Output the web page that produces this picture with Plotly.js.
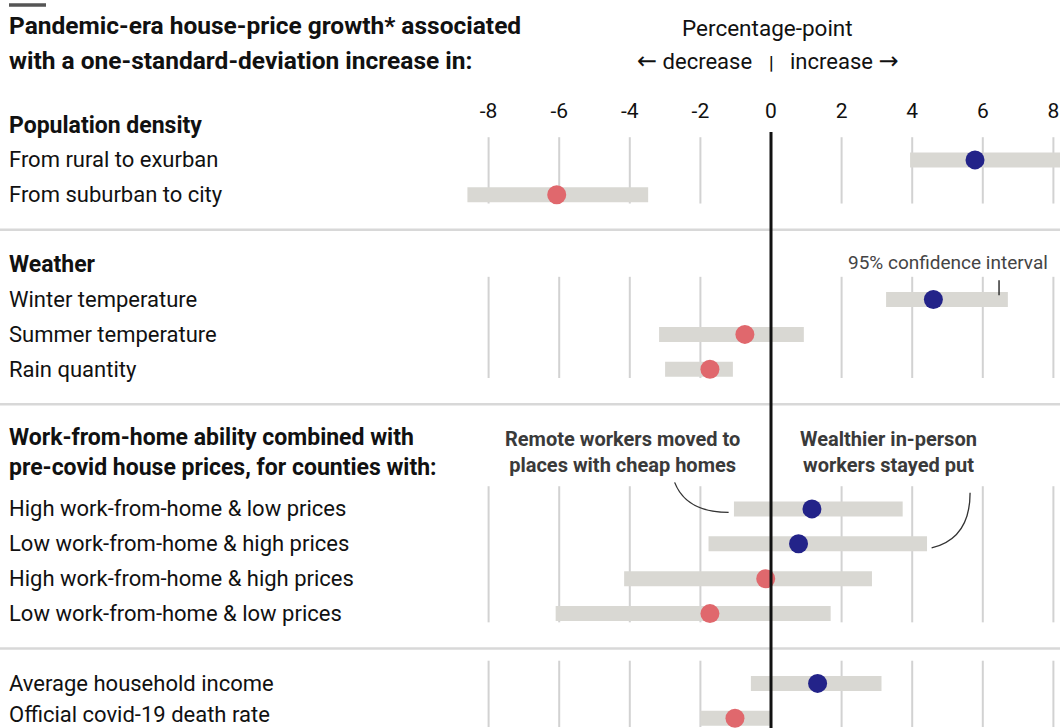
<!DOCTYPE html>
<html><head><meta charset="utf-8">
<script src="https://cdn.plot.ly/plotly-3.0.1.min.js"></script>
<style>html,body{margin:0;padding:0;background:#fff}#chart{width:1060px;height:728px}</style>
</head><body><div id="chart"></div>
<script>
// ---- data ----
const groupHeaders = [
  ["Population density"],
  ["Weather"],
  ["Work-from-home ability combined with", "pre-covid house prices, for counties with:"],
  []
];
const groupSizes = [2, 3, 4, 2];
const labels = [
  "From rural to exurban",
  "From suburban to city",
  "Winter temperature",
  "Summer temperature",
  "Rain quantity",
  "High work-from-home & low prices",
  "Low work-from-home & high prices",
  "High work-from-home & high prices",
  "Low work-from-home & low prices",
  "Average household income",
  "Official covid-19 death rate"
];
const estimate = [5.78, -6.07, 4.60, -0.74, -1.73, 1.16, 0.78, -0.15, -1.73, 1.32, -1.02];
const ciLow    = [3.94, -8.60, 3.26, -3.17, -3.00, -1.05, -1.77, -4.16, -6.10, -0.57, -2.00];
const ciHigh   = [8.60, -3.48, 6.71, 0.93, -1.08, 3.73, 4.42, 2.86, 1.69, 3.13, 0.00];
const tickValues = [-8, -6, -4, -2, 0, 2, 4, 6, 8];
const tickLabels = ["-8", "-6", "-4", "-2", "0", "2", "4", "6", "8"];
const titleLines = ["Pandemic-era house-price growth* associated", "with a one-standard-deviation increase in:"];

// ---- row layout ----
const rows = [], headerRows = [], sepRows = [], groupSpans = [];
let r = 0;
groupHeaders.forEach((h, g) => {
  if (h.length) { headerRows.push({ text: h, row: r + (h.length - 1) / 2, n: h.length }); r += h.length; }
  const first = r;
  for (let i = 0; i < groupSizes[g]; i++) { rows.push(r); r++; }
  groupSpans.push([first, r - 1]);
  if (g < groupHeaders.length - 1) { sepRows.push(r); r++; }
});

const W = 1060, H = 728, T = 100;
const py = p => (H - p) / (H - T); // pixel -> paper y
const FONT = "Roboto, 'Open Sans', sans-serif";
const BLUE = "#232389", RED = "#e0686d", BAR = "#d9d8d3", GRID = "#d2d2d2";

const traces = [
  {
    type: "bar", orientation: "h", y: rows, base: ciLow,
    x: ciHigh.map((h, i) => h - ciLow[i]), width: 0.43,
    marker: { color: BAR }, hoverinfo: "skip", showlegend: false
  },
  {
    type: "scatter", mode: "markers", y: rows, x: estimate,
    marker: { size: 19, color: estimate.map(v => v >= 0 ? BLUE : RED) },
    cliponaxis: false, showlegend: false, hoverinfo: "x"
  }
];

const shapes = [];
shapes.push({ type: "line", xref: "paper", yref: "paper", x0: 9 / W, x1: 46 / W, y0: py(5), y1: py(5), line: { color: "#555", width: 3.5 } });
sepRows.forEach(s => shapes.push({ type: "line", xref: "paper", yref: "y", x0: 0, x1: 1, y0: s, y1: s, line: { color: "#d8d8d8", width: 2.5 }, layer: "below" }));
groupSpans.forEach(([a, b]) => tickValues.forEach(t => {
  if (t === 0) return;
  shapes.push({ type: "line", xref: "x", yref: "y", x0: t, x1: t, y0: a - 0.65, y1: b + 0.25, line: { color: GRID, width: 2 }, layer: "below" });
}));
shapes.push({ type: "line", xref: "x", yref: "y", x0: 0, x1: 0, y0: 0.2, y1: 17.4, line: { color: "#111", width: 3 }, layer: "above" });
shapes.push({ type: "line", xref: "x", yref: "y", x0: 6.46, x1: 6.46, y0: 4.45, y1: 4.88, line: { color: "#333", width: 1.5 } });
shapes.push({ type: "path", xref: "x", yref: "y", path: "M -2.73,10.24 Q -2.40,11.10 -1.20,11.10", line: { color: "#333", width: 1.3 } });
shapes.push({ type: "path", xref: "x", yref: "y", path: "M 5.64,10.54 Q 5.64,11.85 4.55,12.12", line: { color: "#333", width: 1.3 } });

const ann = [];
titleLines.forEach((t, i) => ann.push({ xref: "paper", yref: "paper", x: 7 / W, y: py(25 + 35 * i), xanchor: "left", yanchor: "middle", text: "<b>" + t + "</b>", showarrow: false, font: { family: FONT, size: 24.5, color: "#111" } }));
headerRows.forEach(h => ann.push({ xref: "paper", yref: "y", x: 7 / W, y: h.row, xanchor: "left", yanchor: "middle", yshift: h.n > 1 ? 4 : 0, align: "left", text: h.text.map(s => "<b>" + s + "</b>").join("<br>"), showarrow: false, font: { family: FONT, size: 23, color: "#111" } }));
labels.forEach((l, i) => ann.push({ xref: "paper", yref: "y", x: 7 / W, y: rows[i], xanchor: "left", yanchor: "middle", yshift: i === labels.length - 1 ? 4 : 0, text: l, showarrow: false, font: { family: FONT, size: 22, color: "#111" } }));
ann.push({ xref: "x", yref: "paper", x: -0.1, y: py(28), xanchor: "center", yanchor: "middle", text: "Percentage-point", showarrow: false, font: { family: FONT, size: 22.5, color: "#111" } });
ann.push({ xref: "x", yref: "paper", x: 0, y: py(61), xanchor: "right", xshift: -17, yanchor: "middle", text: "<span style='font-family:DejaVu Sans;font-size:24px'>←</span> decrease", showarrow: false, font: { family: FONT, size: 22, color: "#111" } });
ann.push({ xref: "x", yref: "paper", x: 0, y: py(61), xanchor: "left", xshift: 17, yanchor: "middle", text: "increase <span style='font-family:DejaVu Sans;font-size:24px'>→</span>", showarrow: false, font: { family: FONT, size: 22, color: "#111" } });
ann.push({ xref: "x", yref: "paper", x: 0, y: py(63), xanchor: "center", yanchor: "middle", text: "<b>|</b>", showarrow: false, font: { family: FONT, size: 18, color: "#111" } });
ann.push({ xref: "x", yref: "y", x: 5.0, y: 3.93, xanchor: "center", yanchor: "middle", text: "95% confidence interval", showarrow: false, font: { family: FONT, size: 19, color: "#444" } });
ann.push({ xref: "x", yref: "y", x: -4.22, y: 9.37, xanchor: "center", yanchor: "middle", text: "<b>Remote workers moved to</b><br><b>places with cheap homes</b>", showarrow: false, font: { family: FONT, size: 20, color: "#3a3a3a" } });
ann.push({ xref: "x", yref: "y", x: 3.34, y: 9.37, xanchor: "center", yanchor: "middle", text: "<b>Wealthier in-person</b><br><b>workers stayed put</b>", showarrow: false, font: { family: FONT, size: 20, color: "#3a3a3a" } });

const layout = {
  width: W, height: H,
  margin: { l: 0, r: 0, t: T, b: 0, pad: 0 },
  paper_bgcolor: "#fff", plot_bgcolor: "#fff",
  font: { family: FONT, color: "#111" },
  barmode: "overlay",
  xaxis: {
    range: [(0 - 771) / 35.3, (W - 771) / 35.3], side: "top",
    tickmode: "array", tickvals: tickValues, ticktext: tickLabels,
    ticklabelposition: "inside", ticks: "", showgrid: false, zeroline: false, showline: false,
    tickfont: { family: FONT, size: 21, color: "#111" }, fixedrange: true
  },
  yaxis: {
    range: [(H - 125) / 34.9, (T - 125) / 34.9], showticklabels: false, ticks: "",
    showgrid: false, zeroline: false, showline: false, fixedrange: true
  },
  shapes: shapes, annotations: ann, showlegend: false
};
Plotly.newPlot("chart", traces, layout, { displayModeBar: false, staticPlot: true });
</script>
</body></html>
